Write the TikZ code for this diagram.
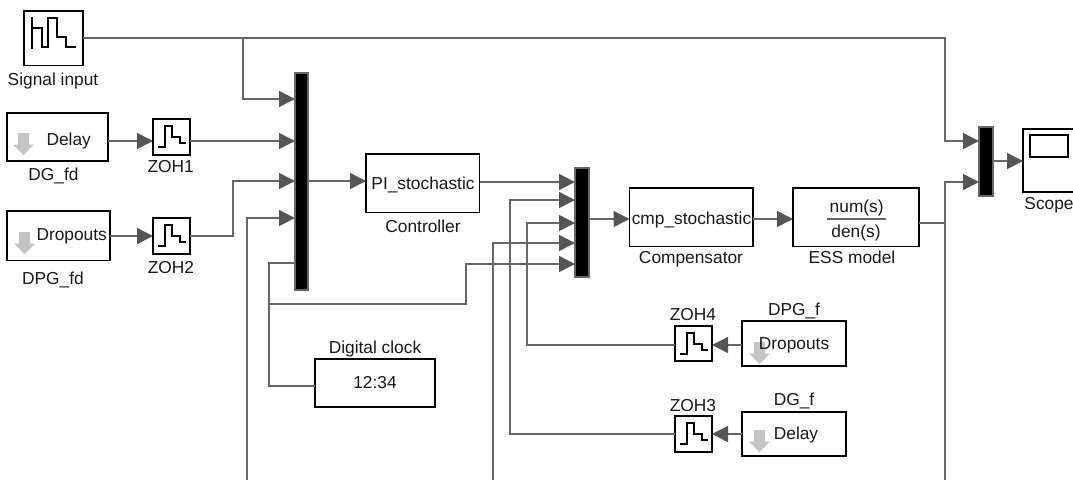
\documentclass[tikz,border=0pt]{standalone}
\usepackage{fontspec}
\setmainfont{Liberation Sans}
\usetikzlibrary{arrows.meta}
\definecolor{wirec}{HTML}{666666}
\definecolor{tipc}{HTML}{555555}
\definecolor{ghost}{HTML}{C4C4C4}
\tikzset{
  blockbox/.style={draw=black,line width=1.1pt,fill=white,inner sep=0pt,outer sep=0pt},
  muxbar/.style={draw=wirec,line width=1.1pt,fill=black,inner sep=0pt,outer sep=0pt},
  wire/.style={draw=wirec,line width=1.1pt},
  flow/.style={wire,-{Triangle[length=12pt,width=12pt,color=tipc]}},
  lbl/.style={anchor=base,inner sep=0pt,outer sep=0pt,font=\fontsize{13pt}{15pt}\selectfont,text=black!90},
  icon/.style={draw=black,line width=1.25pt},
  ghostarrow/.style={fill=ghost,draw=none}
}
% name, x1, y1, x2, y2
\newcommand\blk[6][blockbox]{\node[#1,minimum width={(#5-#3)*0.75pt},minimum height={(#6-#4)*0.75pt}] (#2) at ({(#3+#5)/2},{(#4+#6)/2}) {};}
\newcommand\zohicon[2]{\draw[icon,shift={(#1,#2)}] (5,27.7) -- (11.7,27.7) -- (11.7,6.7) -- (19.3,6.7) -- (19.3,17.7) -- (26.7,17.7) -- (26.7,24.3) -- (32.7,24.3);}
% left x, top y of a 21x22 grey down arrow
\newcommand\ghostdown[2]{\fill[ghostarrow,shift={(#1,#2)}] (5,0) -- (16,0) -- (16,11.5) -- (21,11.5) -- (10.5,22) -- (0,11.5) -- (5,11.5) -- cycle;}
\begin{document}
\begin{tikzpicture}[x=0.75pt,y=-0.75pt]
\useasboundingbox (0,0) rectangle (1073,480);
\fill[white] (0,0) rectangle (1073,480);

% blocks
\blk{sig}{24}{11}{83}{65.5}
\blk{dgfd}{7}{113}{108}{161}
\blk{dpgfd}{7}{211}{110}{260.5}
\blk{zoha}{153}{119}{190}{155}
\blk{zohb}{153}{218}{190}{254}
\blk{ctrl}{366}{154}{479.5}{212.5}
\blk{comp}{629.5}{188}{753}{246.5}
\blk{ess}{793}{188}{919}{246.5}
\blk{scope}{1023}{129}{1090}{192}
\blk{clock}{315}{359}{435}{407}
\blk{zohd}{675}{326}{712}{361}
\blk{zohc}{675}{416}{712}{452}
\blk{dpgf}{742}{321}{846}{366}
\blk{dgf}{742}{412}{846}{456}
\blk[muxbar]{muxa}{295}{73}{308}{290}
\blk[muxbar]{muxb}{575}{168}{589}{277}
\blk[muxbar]{muxc}{979}{127}{993}{196}

% scope window
\node[draw=black,line width=1.1pt,inner sep=0pt,outer sep=0pt,minimum width={38*0.75pt},minimum height={22*0.75pt}] (scopewin) at (1049,146) {};

% icons
\draw[icon] (31.7,17.3) -- (31.7,49) (31.7,28) -- (41.7,28) -- (41.7,47.3) -- (48.3,47.3) -- (48.3,18) -- (57.3,18) -- (57.3,37.3) -- (65.7,37.3) -- (65.7,47.3) -- (76,47.3);
\zohicon{153}{119}
\zohicon{153}{218}
\zohicon{675}{326}
\zohicon{675}{416}
\ghostdown{13}{133}
\ghostdown{14}{232}
\ghostdown{749}{342}
\ghostdown{749}{430}

% ports
\coordinate (aone) at (295,99);
\coordinate (atwo) at (295,141);
\coordinate (athree) at (295,181);
\coordinate (afour) at (295,218);
\coordinate (afive) at (295,263);
\coordinate (aout) at (308,181);
\coordinate (bone) at (575,182);
\coordinate (btwo) at (575,200);
\coordinate (bthree) at (575,223);
\coordinate (bfour) at (575,243);
\coordinate (bfive) at (575,264);
\coordinate (bout) at (589,219);
\coordinate (cone) at (979,141);
\coordinate (ctwo) at (979,182);
\coordinate (cout) at (993,161);
% junctions and free ends
\coordinate (jsig) at (243,38);
\coordinate (jfive) at (269,304);
\coordinate (jess) at (945,223);
\coordinate (endfour) at (247,480);
\coordinate (endbfour) at (493,480);
\coordinate (endess) at (945,480);

% wires
\draw[flow] (sig.east |- jsig) -- (jsig) |- (aone);
\draw[flow] (sig.east |- jsig) -| (jess |- cone) -- (cone);
\draw[flow] (dgfd.east |- 0,141) -- (zoha.west |- 0,141);
\draw[flow] (zoha.east |- atwo) -- (atwo);
\draw[flow] (dpgfd.east |- 0,236) -- (zohb.west |- 0,236);
\draw[flow] (zohb.east |- 0,236) -- (233,236) |- (athree);
\draw[flow] (endfour) |- (afour);
\draw[wire] (afive) -- (jfive |- afive) -- (jfive) |- (clock.west |- 0,386);
\draw[flow] (jfive) -- (466,304) |- (bfive);
\draw[flow] (aout) -- (ctrl.west |- aout);
\draw[flow] (ctrl.east |- bone) -- (bone);
\draw[flow] (zohc.west |- 0,434) -| (510,300) |- (btwo);
\draw[flow] (zohd.west |- 0,345) -| (527,300) |- (bthree);
\draw[flow] (endbfour) |- (bfour);
\draw[flow] (bout) -- (comp.west |- bout);
\draw[flow] (comp.east |- bout) -- (ess.west |- bout);
\draw[wire] (ess.east |- jess) -- (jess);
\draw[wire] (jess) -- (endess);
\draw[flow] (jess) |- (ctwo);
\draw[flow] (cout) -- (scope.west |- cout);
\draw[flow] (dpgf.west |- 0,345) -- (zohd.east |- 0,345);
\draw[flow] (dgf.west |- 0,434) -- (zohc.east |- 0,434);

% fraction bar
\draw[wirec,line width=1.0pt] (827,219) -- (886,219);

% labels
\node[lbl] (tsig) at (53,85) {Signal input};
\node[lbl] (tdelaya) at (68.7,145) {Delay};
\node[lbl] (tdgfd) at (53.5,180) {DG\_fd};
\node[lbl] (tzoha) at (170.7,172) {ZOH1};
\node[lbl] (tdropa) at (71.7,240) {Dropouts};
\node[lbl] (tdpgfd) at (53,284) {DPG\_fd};
\node[lbl] (tzohb) at (171,273) {ZOH2};
\node[lbl] (tpi) at (423,189) {PI\_stochastic};
\node[lbl] (tctrl) at (423,232) {Controller};
\node[lbl] (tcmp) at (691.5,224) {cmp\_stochastic};
\node[lbl] (tcomp) at (691,263) {Compensator};
\node[lbl] (tess) at (852,263) {ESS model};
\node[lbl] (tnum) at (856.7,212) {num(s)};
\node[lbl] (tden) at (856,237) {den(s)};
\node[lbl] (tscope) at (1049,209) {Scope};
\node[lbl] (tdpgf) at (794,315) {DPG\_f};
\node[lbl] (tdropb) at (794,349) {Dropouts};
\node[lbl] (tzohd) at (693,320) {ZOH4};
\node[lbl] (tzohc) at (693,411) {ZOH3};
\node[lbl] (tdgf) at (794,405) {DG\_f};
\node[lbl] (tdelayb) at (796,439) {Delay};
\node[lbl] (tclockn) at (375,353) {Digital clock};
\node[lbl] (tclock) at (375,388) {12:34};
\end{tikzpicture}
\end{document}
